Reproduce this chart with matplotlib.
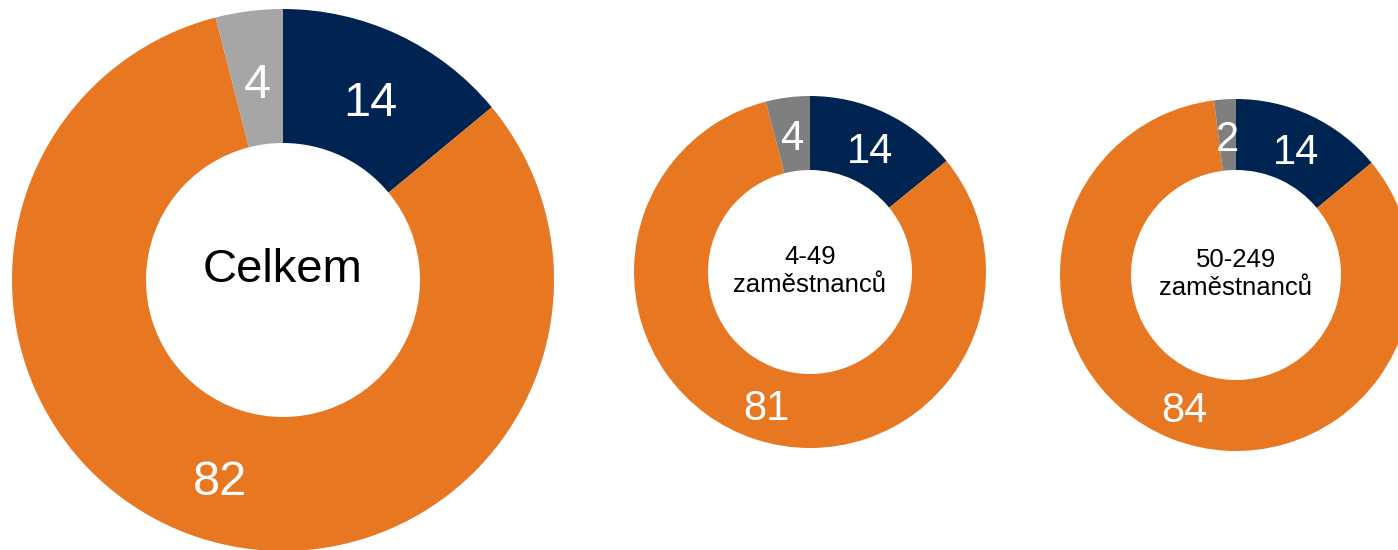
import matplotlib
matplotlib.use("Agg")
import matplotlib.pyplot as plt

plt.rcParams["font.family"] = ["Liberation Sans", "DejaVu Sans"]

# data: shares (%) per group, order clockwise from 12 o'clock
groups = ["Celkem", "4-49\nzaměstnanců", "50-249\nzaměstnanců"]
navy_vals = [14, 14, 14]
orange_vals = [82, 81, 84]
gray_vals = [4, 4, 2]

NAVY = "#002452"
ORANGE = "#E87722"
gray_colors = ["#A6A6A6", "#7F7F7F", "#7F7F7F"]

W, H = 1398, 550
fig = plt.figure(figsize=(W / 100, H / 100), dpi=100)
ax = fig.add_axes([0, 0, 1, 1])

# layout in pixels: centre x, centre y (from top), outer radius, inner radius,
# label font size, centre-text font size, centre-text y shift
layout = [
    (283, 280, 271, 137, 35, 34, 10),
    (810, 272, 176, 102, 30, 18.5, 1),
    (1236, 275, 176, 105, 30, 18.5, 1),
]

for i, (cx, cy, r_out, r_in, lab_fs, ctr_fs, shift) in enumerate(layout):
    vals = [navy_vals[i], orange_vals[i], gray_vals[i]]
    cols = [NAVY, ORANGE, gray_colors[i]]
    width = r_out - r_in
    wedges, texts = ax.pie(
        vals, colors=cols, startangle=90, counterclock=False,
        radius=r_out, center=(cx, H - cy),
        labels=[str(v) for v in vals],
        labeldistance=(r_out + r_in) / 2 / r_out,
        wedgeprops=dict(width=width, edgecolor="none", linewidth=0),
        textprops=dict(color="white", fontsize=lab_fs),
        frame=True,
    )
    for t in texts:
        x, y = t.get_position()
        t.set_position((x, y - 0.03 * r_out))
        t.set_ha("center")
        t.set_va("center")
    ax.text(cx, H - cy + shift, groups[i], ha="center", va="center",
            fontsize=ctr_fs, color="black", linespacing=1.25)

ax.set_xlim(0, W)
ax.set_ylim(0, H)
ax.set_aspect("equal")
ax.axis("off")

fig.savefig("out.png", dpi=100)
